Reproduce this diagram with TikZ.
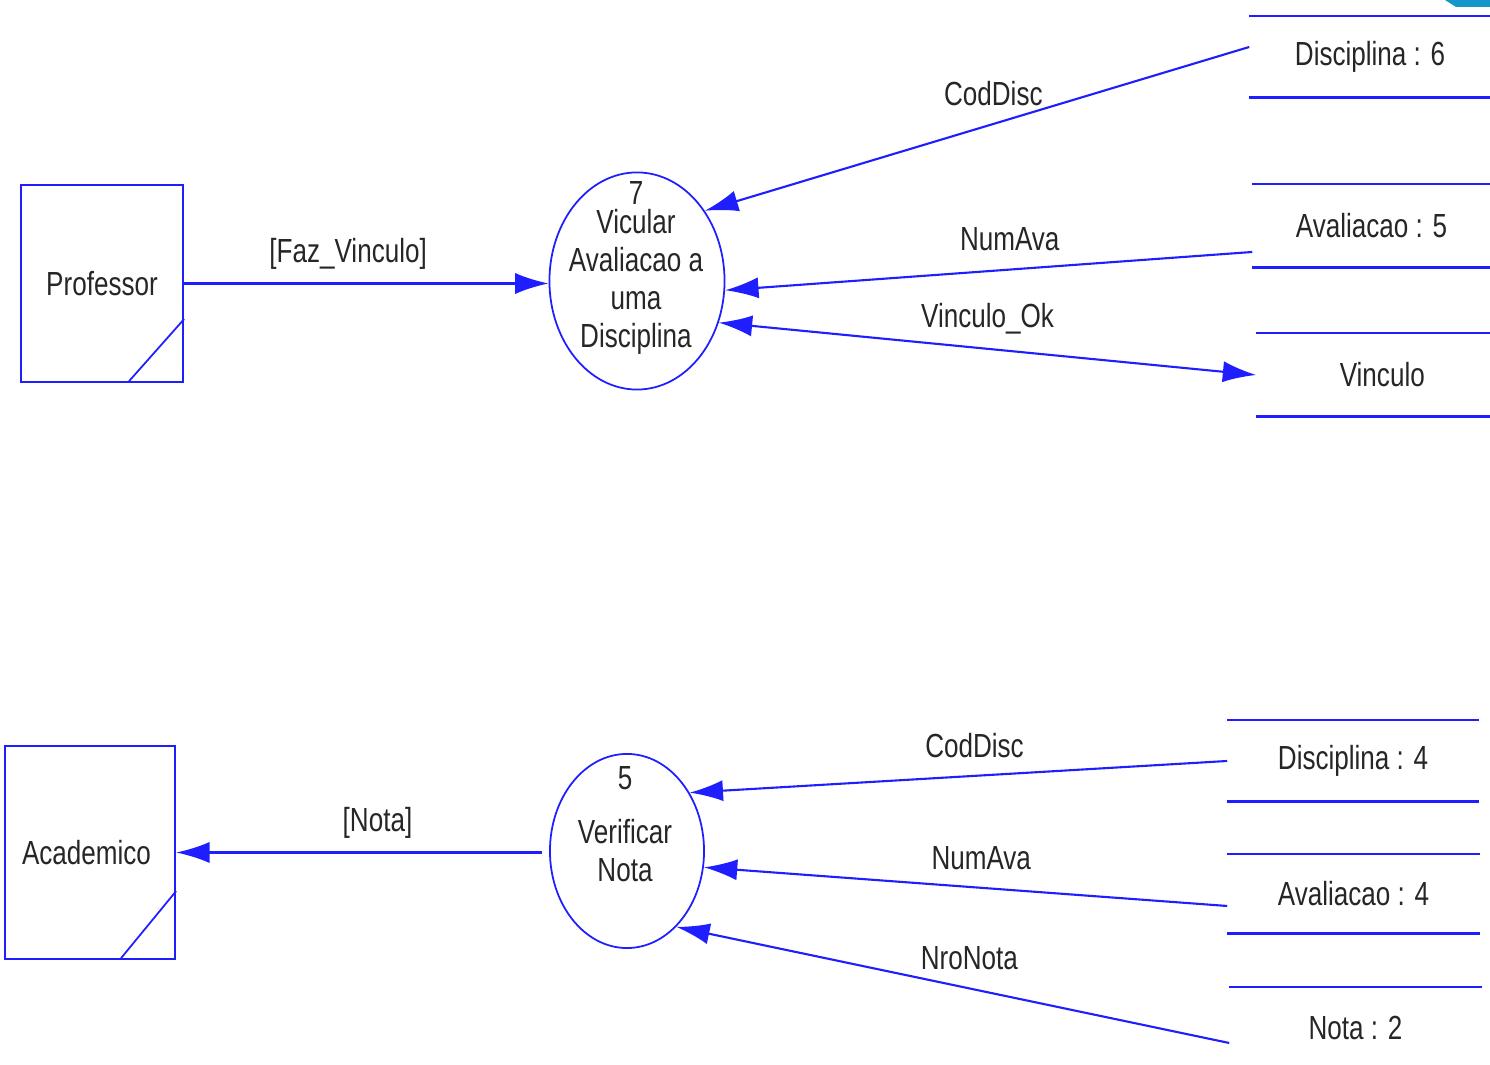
\documentclass[tikz,border=0pt]{standalone}
\usepackage{fontspec}
\setmainfont{Liberation Sans}[FakeStretch=0.78]
\usetikzlibrary{shapes.geometric,arrows.meta,calc}
\definecolor{dfdblue}{RGB}{30,30,255}
\definecolor{tabcyan}{RGB}{20,150,200}

\begin{document}
\begin{tikzpicture}[x=0.01cm,y=-0.01cm,font=\fontsize{9.5}{10.8}\selectfont,text=black!85]
        \tikzstyle{entity}=[rectangle,draw=dfdblue,line width=0.6pt,inner sep=0pt]
        \tikzstyle{process}=[ellipse,draw=dfdblue,line width=0.5pt,inner sep=0pt]
        \tikzstyle{store}=[rectangle,inner sep=0pt,minimum height=0.8cm]
        \tikzstyle{storeline}=[draw=dfdblue,line width=0.7pt]
        \tikzstyle{flow}=[draw=dfdblue,line width=0.6pt,-{Latex[length=9.5pt,width=6pt]}]
        \tikzstyle{lbl}=[inner sep=1pt,yshift=3mm]
        \useasboundingbox (0,0) rectangle (1490,1065);
        \fill[tabcyan] (1445,0) -- (1490,0) -- (1490,7) -- (1456,7) -- cycle;
       % vinculo
       \begin{scope}
         \node [entity,minimum width=1.62cm,minimum height=1.97cm] (prof) at (102,283.5) {Professor};
         \draw[dfdblue,line width=0.5pt] ($(prof.south east)+(0,-64)$) -- ($(prof.south east)+(-55,-2)$);
         \node [process,minimum width=1.75cm,minimum height=2.17cm] (p7) at (637,281) {};
         \node (p7txt) at (636,268) [align=center] {7\\[-2.8pt]Vicular\\Avaliacao a\\uma\\Disciplina};
         \node [store,minimum width=2.4cm] (d6) at (1370,57) {Disciplina : 6};
         \node [store,minimum width=2.37cm,minimum height=0.82cm] (a5) at (1371.5,226) {Avaliacao : 5};
         \node [store,minimum width=2.33cm,minimum height=0.82cm] (vi) at (1373.5,375) {\hspace{5pt}Vinculo};
         \path[flow] (prof.east) -- node[lbl,pos=.45] {[Faz\_Vinculo]} (prof.east -| p7.west);
         \path[flow] ($(d6.west)+(0,-10)$) -- node[lbl,pos=.47] {CodDisc} (p7.46);
         \path[flow] ($(a5.west)+(0,26)$) -- node[lbl,pos=.46] {NumAva} (p7.-6);
         \path[flow,{Latex[length=9.5pt,width=6pt]}-{Latex[length=9.5pt,width=6pt]}] (p7.-27) -- node[lbl,pos=.5] {Vinculo\_Ok} (vi.west);
        \end{scope}
       % nota
       \begin{scope}
         \node [entity,minimum width=1.70cm,minimum height=2.13cm] (acad) at (90,852.5) {\hspace{-2pt}Academico};
         \draw[dfdblue,line width=0.5pt] ($(acad.south east)+(0,-69)$) -- ($(acad.south east)+(-55,-2)$);
         \node [process,minimum width=1.54cm,minimum height=1.94cm] (p5) at (627,851) {};
         \node (p5txt) at (625,824.5) [align=center] {5\\[4.6pt]Verificar\\Nota};
         \node [store,minimum width=2.5cm] (d4) at (1353,761) {Disciplina : 4};
         \node [store,minimum width=2.51cm,minimum height=0.78cm] (a4) at (1353.5,894) {Avaliacao : 4};
         \node [store,minimum width=2.51cm] (n2) at (1355.5,1028) {Nota : 2};
         \path[flow,shorten <=2pt] (acad.east -| p5.west) -- node[lbl,pos=.46] {[Nota]} (acad.east);
         \path[flow] (d4.west) -- node[lbl,pos=.47] {CodDisc} (p5.43);
         \path[flow] ($(a4.west)+(0,12)$) -- node[lbl,pos=.47] {NumAva} (p5.-12);
         \path[flow] ($(n2.west)+(0,15)$) -- node[lbl,pos=.47] {NroNota} (p5.-57);
        \end{scope}
        \foreach \s in {d6,a5,vi,d4,a4}
          \draw[storeline] (\s.north west) -- (\s.north east) (\s.south west) -- (\s.south east);
        \draw[storeline] (n2.north west) -- (n2.north east);
      \end{tikzpicture}
\end{document}
